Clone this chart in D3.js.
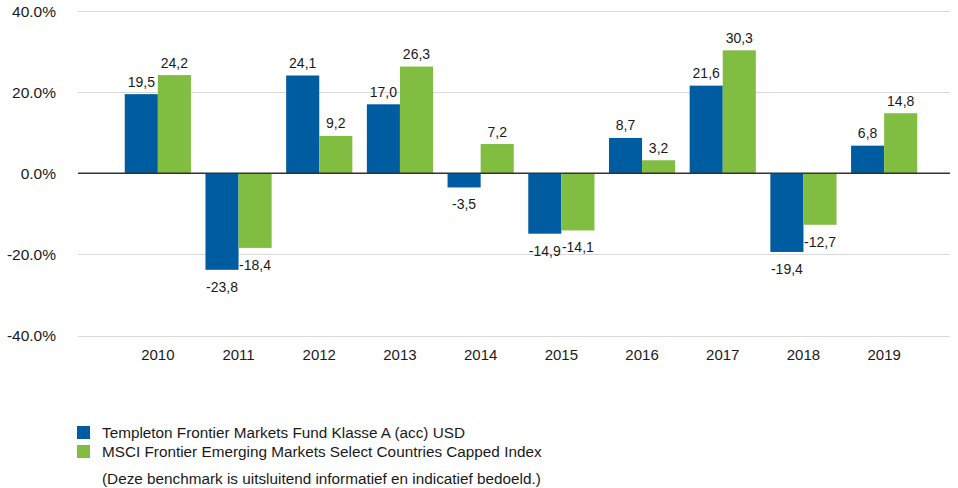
<!DOCTYPE html>
<html>
<head>
<meta charset="utf-8">
<script src="https://cdn.jsdelivr.net/npm/d3@7"></script>
<style>
  body { margin: 0; background: #fff; }
  svg text { font-family: "Liberation Sans", Arial, sans-serif; fill: #1a1a1a; }
</style>
</head>
<body>
<div id="chart"></div>
<script>
const years = ["2010", "2011", "2012", "2013", "2014", "2015", "2016", "2017", "2018", "2019"];
const fundValues = [19.5, -23.8, 24.1, 17.0, -3.5, -14.9, 8.7, 21.6, -19.4, 6.8];
const indexValues = [24.2, -18.4, 9.2, 26.3, 7.2, -14.1, 3.2, 30.3, -12.7, 14.8];
const yTicks = [40, 20, 0, -20, -40];
const seriesNames = [
    "Templeton Frontier Markets Fund Klasse A (acc) USD",
    "MSCI Frontier Emerging Markets Select Countries Capped Index"
];
const footnote = "(Deze benchmark is uitsluitend informatief en indicatief bedoeld.)";
const colors = ["#005ca1", "#80bd41"];

const W = 958, H = 488;
const svg = d3.select("#chart").append("svg")
    .attr("width", W)
    .attr("height", H);

// plain hyphen for negatives, like the source
const fmtPct = d3.formatLocale({ decimal: ".", thousands: ",", grouping: [3], currency: ["", ""], minus: "-" }).format(".1f");
const fmtVal = d3.formatLocale({ decimal: ",", thousands: ".", grouping: [3], currency: ["", ""], minus: "-" }).format(".1f");

// Scales
const x = d3.scaleBand()
    .domain(years)
    .range([117.5, 924.5])
    .paddingInner(0.18)
    .paddingOuter(0.09);

const sub = d3.scaleBand()
    .domain([0, 1])
    .range([0, x.bandwidth()]);

const y = d3.scaleLinear()
    .domain([-40, 40])
    .range([335.5, 11]);

// Gridlines
svg.append("g")
    .selectAll("line")
    .data(yTicks.filter(d => d !== 0))
    .join("line")
    .attr("x1", 78)
    .attr("x2", 950)
    .attr("y1", d => Math.round(y(d)) + 0.5)
    .attr("y2", d => Math.round(y(d)) + 0.5)
    .attr("stroke", "#d9d9d9")
    .attr("stroke-width", 1);

// Y labels
svg.append("g")
    .selectAll("text")
    .data(yTicks)
    .join("text")
    .attr("x", 56)
    .attr("y", d => y(d) + 5.5)
    .attr("text-anchor", "end")
    .attr("font-size", 15.5)
    .text(d => fmtPct(d) + "%");

// Bars
const data = years.map((yr, i) => ({ year: yr, vals: [fundValues[i], indexValues[i]] }));

const groups = svg.append("g")
    .selectAll("g")
    .data(data)
    .join("g")
    .attr("transform", d => `translate(${x(d.year)},0)`);

groups.selectAll("rect")
    .data(d => d.vals.map((v, k) => ({ v, k })))
    .join("rect")
    .attr("x", d => sub(d.k))
    .attr("width", sub.bandwidth())
    .attr("y", d => y(Math.max(0, d.v)))
    .attr("height", d => Math.abs(y(d.v) - y(0)))
    .attr("fill", d => colors[d.k]);

groups.selectAll("text")
    .data(d => d.vals.map((v, k) => ({ v, k })))
    .join("text")
    .attr("x", d => sub(d.k) + sub.bandwidth() / 2)
    .attr("y", d => d.v >= 0 ? y(d.v) - 7.5 : y(d.v) + 22)
    .attr("text-anchor", "middle")
    .attr("font-size", 14)
    .text(d => fmtVal(d.v));

// Zero line
svg.append("line")
    .attr("x1", 78)
    .attr("x2", 950)
    .attr("y1", y(0))
    .attr("y2", y(0))
    .attr("stroke", "#333")
    .attr("stroke-width", 1.5);

// X labels
svg.append("g")
    .selectAll("text")
    .data(years)
    .join("text")
    .attr("x", d => x(d) + x.bandwidth() / 2)
    .attr("y", 360)
    .attr("text-anchor", "middle")
    .attr("font-size", 15)
    .text(d => d);

// Legend
const legend = svg.append("g");
seriesNames.forEach((name, i) => {
    legend.append("rect")
        .attr("x", 77)
        .attr("y", 426 + i * 19)
        .attr("width", 13)
        .attr("height", 13)
        .attr("fill", colors[i]);
    legend.append("text")
        .attr("x", 102)
        .attr("y", 438 + i * 19)
        .attr("font-size", 15.3)
        .text(name);
});
legend.append("text")
    .attr("x", 102)
    .attr("y", 484)
    .attr("font-size", 15.3)
    .text(footnote);
</script>
</body>
</html>
